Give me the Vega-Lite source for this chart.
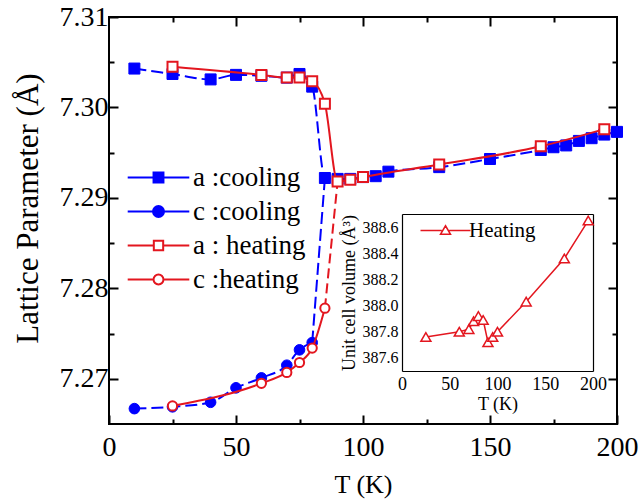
{
  "$schema": "https://vega.github.io/schema/vega-lite/v6.json",
  "width": 508,
  "height": 407,
  "autosize": {"type": "none"},
  "padding": {"left": 109, "top": 17, "right": 22, "bottom": 78},
  "background": "white",
  "datasets": {
    "lat": [
      {"T": 10, "v": 7.3043, "s": "a :cooling"},
      {"T": 25, "v": 7.3037, "s": "a :cooling"},
      {"T": 40, "v": 7.3031, "s": "a :cooling"},
      {"T": 50, "v": 7.3036, "s": "a :cooling"},
      {"T": 60, "v": 7.3035, "s": "a :cooling"},
      {"T": 70, "v": 7.3033, "s": "a :cooling"},
      {"T": 75, "v": 7.3037, "s": "a :cooling"},
      {"T": 80, "v": 7.3023, "s": "a :cooling"},
      {"T": 85, "v": 7.2922, "s": "a :cooling"},
      {"T": 90, "v": 7.2921, "s": "a :cooling"},
      {"T": 95, "v": 7.2921, "s": "a :cooling"},
      {"T": 100, "v": 7.2923, "s": "a :cooling"},
      {"T": 105, "v": 7.2924, "s": "a :cooling"},
      {"T": 110, "v": 7.2929, "s": "a :cooling"},
      {"T": 130, "v": 7.2934, "s": "a :cooling"},
      {"T": 150, "v": 7.2943, "s": "a :cooling"},
      {"T": 170, "v": 7.2953, "s": "a :cooling"},
      {"T": 175, "v": 7.2956, "s": "a :cooling"},
      {"T": 180, "v": 7.2958, "s": "a :cooling"},
      {"T": 185, "v": 7.2963, "s": "a :cooling"},
      {"T": 190, "v": 7.2966, "s": "a :cooling"},
      {"T": 195, "v": 7.2970, "s": "a :cooling"},
      {"T": 200, "v": 7.2973, "s": "a :cooling"},
      {"T": 10, "v": 7.2667, "s": "c :cooling"},
      {"T": 25, "v": 7.2669, "s": "c :cooling"},
      {"T": 40, "v": 7.2674, "s": "c :cooling"},
      {"T": 50, "v": 7.2690, "s": "c :cooling"},
      {"T": 60, "v": 7.2701, "s": "c :cooling"},
      {"T": 70, "v": 7.2715, "s": "c :cooling"},
      {"T": 75, "v": 7.2732, "s": "c :cooling"},
      {"T": 80, "v": 7.2740, "s": "c :cooling"},
      {"T": 80, "v": 7.2740, "s": "c :cooling link"},
      {"T": 85, "v": 7.2922, "s": "c :cooling link"},
      {"T": 25, "v": 7.3045, "s": "a : heating"},
      {"T": 60, "v": 7.3036, "s": "a : heating"},
      {"T": 70, "v": 7.3033, "s": "a : heating"},
      {"T": 75, "v": 7.3033, "s": "a : heating"},
      {"T": 80, "v": 7.3029, "s": "a : heating"},
      {"T": 85, "v": 7.3004, "s": "a : heating"},
      {"T": 90, "v": 7.2918, "s": "a : heating"},
      {"T": 95, "v": 7.2920, "s": "a : heating"},
      {"T": 100, "v": 7.2923, "s": "a : heating"},
      {"T": 130, "v": 7.2937, "s": "a : heating"},
      {"T": 170, "v": 7.2957, "s": "a : heating"},
      {"T": 195, "v": 7.2976, "s": "a : heating"},
      {"T": 25, "v": 7.2670, "s": "c :heating"},
      {"T": 60, "v": 7.2695, "s": "c :heating"},
      {"T": 70, "v": 7.2707, "s": "c :heating"},
      {"T": 75, "v": 7.2718, "s": "c :heating"},
      {"T": 80, "v": 7.2734, "s": "c :heating"},
      {"T": 85, "v": 7.2778, "s": "c :heating"},
      {"T": 85, "v": 7.2778, "s": "c :heating link"},
      {"T": 90, "v": 7.2918, "s": "c :heating link"}
    ],
    "vol": [
      {"T": 25, "V": 387.76, "s": "Heating"},
      {"T": 60, "V": 387.80, "s": "Heating"},
      {"T": 70, "V": 387.82, "s": "Heating"},
      {"T": 75, "V": 387.88, "s": "Heating"},
      {"T": 80, "V": 387.92, "s": "Heating"},
      {"T": 85, "V": 387.89, "s": "Heating"},
      {"T": 90, "V": 387.72, "s": "Heating"},
      {"T": 95, "V": 387.76, "s": "Heating"},
      {"T": 100, "V": 387.80, "s": "Heating"},
      {"T": 130, "V": 388.03, "s": "Heating"},
      {"T": 170, "V": 388.36, "s": "Heating"},
      {"T": 195, "V": 388.65, "s": "Heating"}
    ]
  },
  "layer": [
    {
      "data": {"name": "lat"},
      "transform": [{"filter": {"field": "s", "oneOf": ["a :cooling", "c :cooling", "c :cooling link"]}}],
      "mark": {"type": "line", "color": "#0000ff", "strokeWidth": 2, "strokeDash": [12, 5], "interpolate": "monotone"},
      "encoding": {
        "x": {"field": "T", "type": "quantitative", "scale": {"domain": [0, 200], "nice": false, "zero": false},
          "axis": {"orient": "bottom", "values": [0, 50, 100, 150, 200], "ticks": true,
            "tickSize": -9, "tickColor": "black", "tickWidth": 2, "domain": false, "grid": false,
            "labelFontSize": 28, "labelColor": "black", "labelPadding": 18, "labelFlush": false, "labelOverlap": false, "labelBound": false,
            "title": "T (K)", "titleFontSize": 26, "titleFontWeight": "normal", "titleColor": "black", "titlePadding": 10}},
        "y": {"field": "v", "type": "quantitative", "scale": {"domain": [7.265, 7.31], "nice": false, "zero": false},
          "axis": {"orient": "left", "values": [7.27, 7.28, 7.29, 7.3, 7.31], "format": ".2f", "ticks": true,
            "tickSize": -9, "tickColor": "black", "tickWidth": 2, "domain": false, "grid": false,
            "labelFontSize": 28, "labelColor": "black", "labelPadding": 10, "labelFlush": false, "labelOverlap": false, "labelBound": false,
            "title": "Lattice Parameter (Å)", "titleFontSize": 31, "titleFontWeight": "normal", "titleColor": "black", "titlePadding": 15, "titleY": 191}},
        "detail": {"field": "s"}
      }
    },
    {
      "data": {"name": "lat"},
      "transform": [{"filter": {"field": "s", "equal": "a :cooling"}}],
      "mark": {"type": "point", "shape": "square", "filled": true, "fill": "#0000ff", "stroke": "#0000ff", "strokeWidth": 1, "size": 121, "opacity": 1},
      "encoding": {
        "x": {"field": "T", "type": "quantitative", "scale": {"domain": [0, 200], "nice": false, "zero": false},
          "axis": {"orient": "top", "values": [50, 100, 150], "ticks": true,
            "labels": false, "title": null, "domain": false, "grid": false,
            "tickSize": -9, "tickColor": "black", "tickWidth": 2}},
        "y": {"field": "v", "type": "quantitative", "scale": {"domain": [7.265, 7.31], "nice": false, "zero": false},
          "axis": {"orient": "right", "values": [7.27, 7.28, 7.29, 7.3], "ticks": true,
            "labels": false, "title": null, "domain": false, "grid": false,
            "tickSize": -9, "tickColor": "black", "tickWidth": 2}}
      }
    },
    {
      "data": {"name": "lat"},
      "transform": [{"filter": {"field": "s", "equal": "c :cooling"}}],
      "mark": {"type": "point", "shape": "circle", "filled": true, "fill": "#0000ff", "stroke": "#0000ff", "strokeWidth": 1, "size": 113, "opacity": 1},
      "encoding": {
        "x": {"field": "T", "type": "quantitative", "scale": {"domain": [0, 200], "nice": false, "zero": false},
          "axis": {"orient": "bottom", "values": [25, 75, 125, 175], "ticks": true,
            "labels": false, "title": null, "domain": false, "grid": false,
            "tickSize": -5, "tickColor": "black", "tickWidth": 2}},
        "y": {"field": "v", "type": "quantitative", "scale": {"domain": [7.265, 7.31], "nice": false, "zero": false},
          "axis": {"orient": "left", "values": [7.275, 7.285, 7.295, 7.305], "ticks": true,
            "labels": false, "title": null, "domain": false, "grid": false,
            "tickSize": -5, "tickColor": "black", "tickWidth": 2}}
      }
    },
    {
      "data": {"name": "lat"},
      "transform": [{"filter": {"field": "s", "oneOf": ["a : heating", "c :heating"]}}],
      "mark": {"type": "line", "color": "#e3161f", "strokeWidth": 2, "interpolate": "monotone"},
      "encoding": {
        "x": {"field": "T", "type": "quantitative", "scale": {"domain": [0, 200], "nice": false, "zero": false},
          "axis": {"orient": "top", "values": [25, 75, 125, 175], "ticks": true,
            "labels": false, "title": null, "domain": false, "grid": false,
            "tickSize": -5, "tickColor": "black", "tickWidth": 2}},
        "y": {"field": "v", "type": "quantitative", "scale": {"domain": [7.265, 7.31], "nice": false, "zero": false},
          "axis": {"orient": "right", "values": [7.275, 7.285, 7.295, 7.305], "ticks": true,
            "labels": false, "title": null, "domain": false, "grid": false,
            "tickSize": -5, "tickColor": "black", "tickWidth": 2}},
        "detail": {"field": "s"}
      }
    },
    {
      "data": {"name": "lat"},
      "transform": [{"filter": {"field": "s", "equal": "c :heating link"}}],
      "mark": {"type": "line", "color": "#e3161f", "strokeWidth": 2, "strokeDash": [10, 5]},
      "encoding": {
        "x": {"field": "T", "type": "quantitative", "scale": {"domain": [0, 200], "nice": false, "zero": false}, "axis": null},
        "y": {"field": "v", "type": "quantitative", "scale": {"domain": [7.265, 7.31], "nice": false, "zero": false}, "axis": null}
      }
    },
    {
      "data": {"name": "lat"},
      "transform": [{"filter": {"field": "s", "equal": "a : heating"}}],
      "mark": {"type": "point", "shape": "square", "filled": true, "fill": "white", "stroke": "#e3161f", "strokeWidth": 2, "size": 100, "opacity": 1},
      "encoding": {
        "x": {"field": "T", "type": "quantitative", "scale": {"domain": [0, 200], "nice": false, "zero": false}, "axis": null},
        "y": {"field": "v", "type": "quantitative", "scale": {"domain": [7.265, 7.31], "nice": false, "zero": false}, "axis": null}
      }
    },
    {
      "data": {"name": "lat"},
      "transform": [{"filter": {"field": "s", "equal": "c :heating"}}],
      "mark": {"type": "point", "shape": "circle", "filled": true, "fill": "white", "stroke": "#e3161f", "strokeWidth": 2, "size": 85, "opacity": 1},
      "encoding": {
        "x": {"field": "T", "type": "quantitative", "scale": {"domain": [0, 200], "nice": false, "zero": false}, "axis": null},
        "y": {"field": "v", "type": "quantitative", "scale": {"domain": [7.265, 7.31], "nice": false, "zero": false}, "axis": null}
      }
    },
    {
      "data": {"name": "lat"},
      "transform": [{"filter": "datum.T < 0"}],
      "mark": {"type": "point", "filled": true, "size": 121, "strokeWidth": 2, "opacity": 1},
      "encoding": {
        "shape": {"field": "s", "type": "nominal",
          "scale": {"domain": ["a :cooling", "c :cooling", "a : heating", "c :heating"],
            "range": ["M-5.6,0H-1M1,0H5.6M-0.9,-0.9H0.9V0.9H-0.9Z", "M-5.6,0H-1M1,0H5.6M-1,0A1,1 0 1,0 1,0A1,1 0 1,0 -1,0Z", "M-5.6,0H-1M1,0H5.6M-0.85,-0.85H0.85V0.85H-0.85Z", "M-5.6,0H-1M1,0H5.6M-0.9,0A0.9,0.9 0 1,0 0.9,0A0.9,0.9 0 1,0 -0.9,0Z"]},
          "legend": {"orient": "none", "legendX": 36, "legendY": 147, "title": null, "padding": 0, "symbolSize": 121, "symbolStrokeWidth": 2, "labelFontSize": 27, "labelColor": "black", "labelOffset": 21, "rowPadding": 6, "labelLimit": 300}},
        "fill": {"field": "s", "type": "nominal",
          "scale": {"domain": ["a :cooling", "c :cooling", "a : heating", "c :heating"], "range": ["#0000ff", "#0000ff", "white", "white"]},
          "legend": {"orient": "none", "legendX": 36, "legendY": 147, "title": null, "padding": 0, "symbolSize": 121, "symbolStrokeWidth": 2, "labelFontSize": 27, "labelColor": "black", "labelOffset": 21, "rowPadding": 6, "labelLimit": 300}},
        "stroke": {"field": "s", "type": "nominal",
          "scale": {"domain": ["a :cooling", "c :cooling", "a : heating", "c :heating"], "range": ["#0000ff", "#0000ff", "#e3161f", "#e3161f"]},
          "legend": {"orient": "none", "legendX": 36, "legendY": 147, "title": null, "padding": 0, "symbolSize": 121, "symbolStrokeWidth": 2, "labelFontSize": 27, "labelColor": "black", "labelOffset": 21, "rowPadding": 6, "labelLimit": 300}}
      }
    },
    {
      "data": {"name": "vol"},
      "mark": {"type": "line", "color": "#e3161f", "strokeWidth": 1.5},
      "encoding": {
        "x": {"field": "T", "type": "quantitative", "scale": {"domain": [0, 200], "range": [293, 484], "nice": false, "zero": false},
          "axis": {"orient": "bottom", "offset": -53, "values": [0, 50, 100, 150, 200],
            "ticks": false, "domain": true, "domainColor": "black", "domainWidth": 1.2, "grid": false,
            "labelFontSize": 18, "labelColor": "black", "labelPadding": 4, "labelFlush": false, "labelOverlap": false, "labelBound": false,
            "title": "T (K)", "titleFontSize": 18, "titleFontWeight": "normal", "titleColor": "black", "titlePadding": 2}},
        "y": {"field": "V", "type": "quantitative", "scale": {"domain": [387.5, 388.7], "range": [354, 197], "nice": false, "zero": false},
          "axis": {"orient": "left", "offset": -293, "values": [387.6, 387.8, 388.0, 388.2, 388.4, 388.6], "format": ".1f",
            "ticks": false, "domain": true, "domainColor": "black", "domainWidth": 1.2, "grid": false,
            "labelFontSize": 16, "labelColor": "black", "labelPadding": 4, "labelFlush": false, "labelOverlap": false, "labelBound": false,
            "title": "Unit cell volume (Å³)", "titleFontSize": 18, "titleFontWeight": "normal", "titleColor": "black", "titlePadding": 4}}
      }
    },
    {
      "data": {"name": "vol"},
      "mark": {"type": "point", "shape": "triangle-up", "filled": true, "fill": "white", "stroke": "#e3161f", "strokeWidth": 1.5, "size": 100, "opacity": 1},
      "encoding": {
        "x": {"field": "T", "type": "quantitative", "scale": {"domain": [0, 200], "range": [293, 484], "nice": false, "zero": false},
          "axis": {"orient": "top", "offset": -197, "ticks": false, "labels": false, "title": null, "grid": false, "domain": true, "domainColor": "black", "domainWidth": 1.2}},
        "y": {"field": "V", "type": "quantitative", "scale": {"domain": [387.5, 388.7], "range": [354, 197], "nice": false, "zero": false},
          "axis": {"orient": "right", "offset": -24, "ticks": false, "labels": false, "title": null, "grid": false, "domain": true, "domainColor": "black", "domainWidth": 1.2}}
      }
    },
    {
      "data": {"name": "vol"},
      "transform": [{"filter": "datum.T < 0"}],
      "mark": {"type": "point", "filled": true, "size": 100, "strokeWidth": 1.5, "opacity": 1},
      "encoding": {
        "shape": {"field": "s", "type": "nominal",
          "scale": {"domain": ["Heating"], "range": ["M-5,0H-0.75M0.75,0H5M0,-0.95L1,0.75L-1,0.75Z"]},
          "legend": {"orient": "none", "legendX": 326, "legendY": 203, "title": null, "padding": 0, "symbolSize": 100, "symbolStrokeWidth": 1.5, "labelFontSize": 21, "labelColor": "black", "labelOffset": 13}},
        "fill": {"field": "s", "type": "nominal",
          "scale": {"domain": ["Heating"], "range": ["white"]},
          "legend": {"orient": "none", "legendX": 326, "legendY": 203, "title": null, "padding": 0, "symbolSize": 100, "symbolStrokeWidth": 1.5, "labelFontSize": 21, "labelColor": "black", "labelOffset": 13}},
        "stroke": {"field": "s", "type": "nominal",
          "scale": {"domain": ["Heating"], "range": ["#e3161f"]},
          "legend": {"orient": "none", "legendX": 326, "legendY": 203, "title": null, "padding": 0, "symbolSize": 100, "symbolStrokeWidth": 1.5, "labelFontSize": 21, "labelColor": "black", "labelOffset": 13}}
      }
    }
  ],
  "resolve": {
    "scale": {"x": "independent", "y": "independent", "shape": "independent", "fill": "independent", "stroke": "independent"},
    "axis": {"x": "independent", "y": "independent"},
    "legend": {"shape": "independent", "fill": "independent", "stroke": "independent"}
  },
  "config": {
    "font": "Liberation Serif",
    "view": {"stroke": "black", "strokeWidth": 2},
    "axis": {"labelFont": "Liberation Serif", "titleFont": "Liberation Serif"},
    "legend": {"labelFont": "Liberation Serif"}
  }
}
